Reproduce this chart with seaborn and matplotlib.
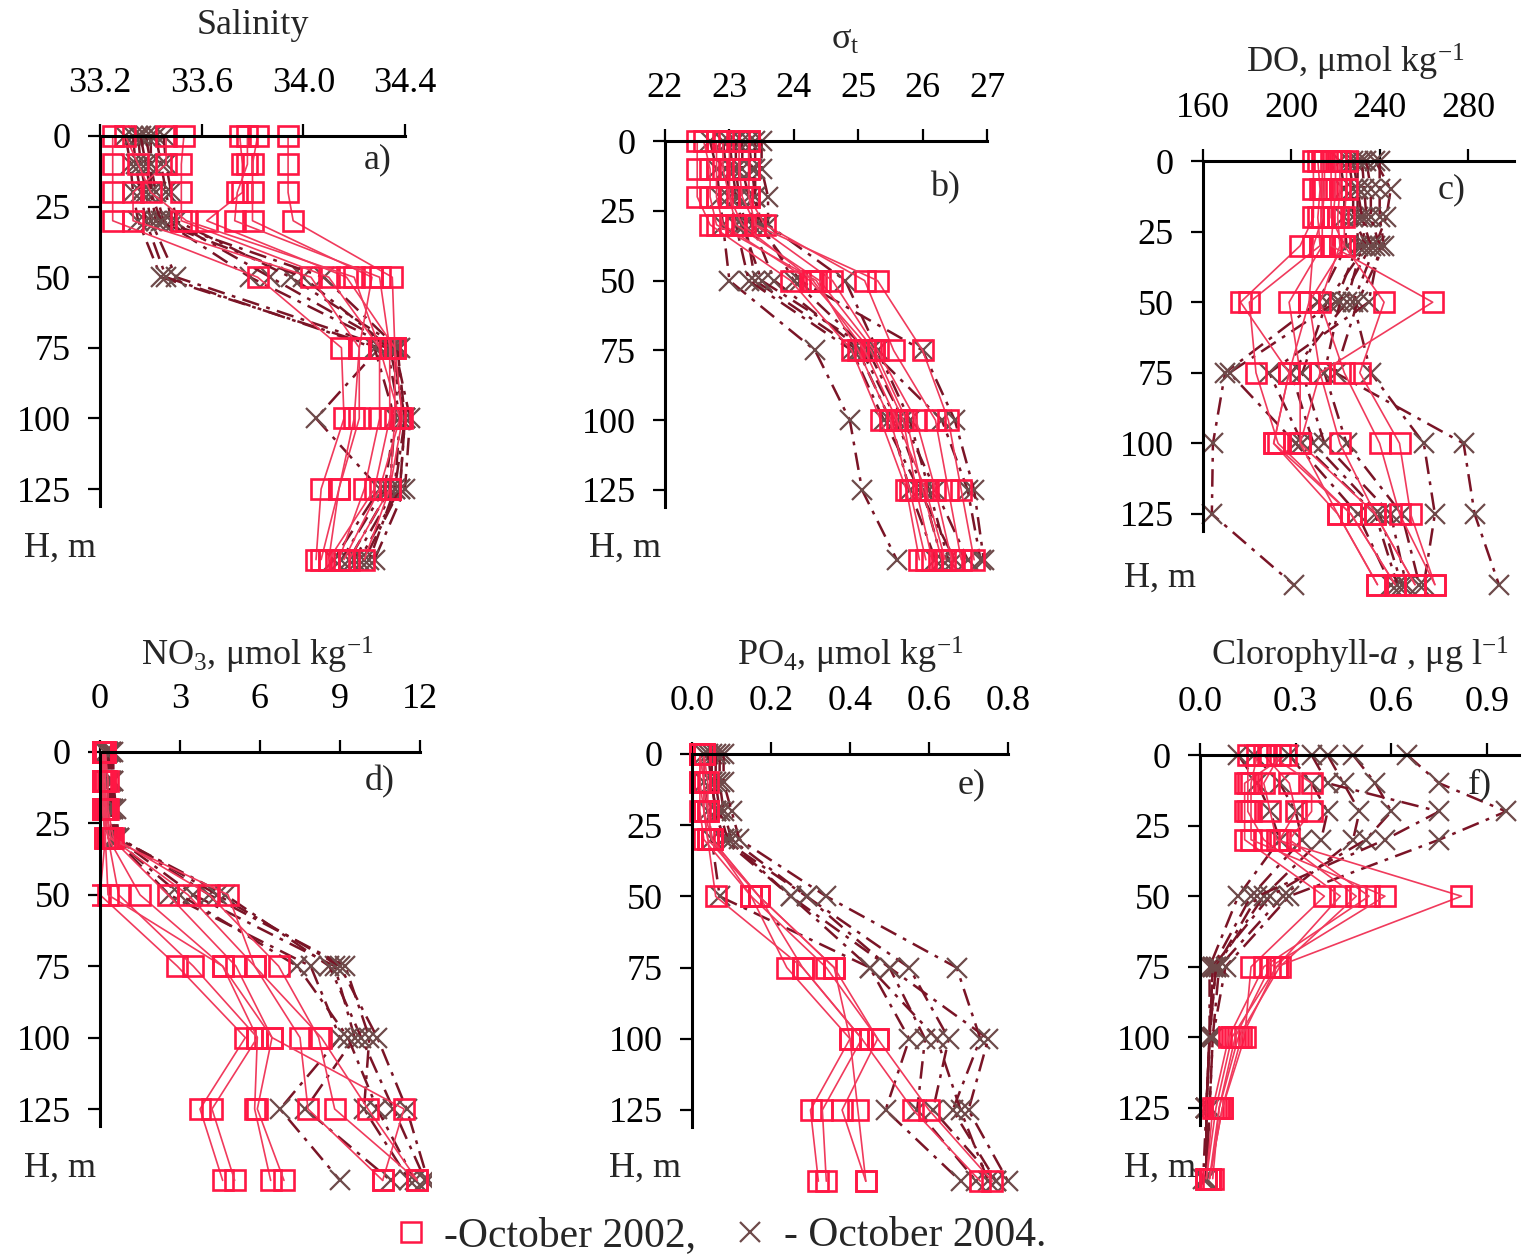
import numpy as np
import pandas as pd
import matplotlib
matplotlib.use("Agg")
import matplotlib.pyplot as plt
from matplotlib.lines import Line2D
import seaborn as sns

# ---------------- data ----------------
depths = [0, 10, 20, 30, 50, 75, 100, 125, 150]

sal_2002 = [
    [33.25, 33.25, 33.25, 33.25, 33.82, 34.15, 34.16, 34.07, 34.05],
    [33.46, 33.46, 33.33, 33.33, 34.03, 34.22, 34.20, 34.14, 34.10],
    [33.53, 33.52, 33.52, 33.52, 34.10, 34.30, 34.30, 34.24, 34.14],
    [33.75, 33.76, 33.76, 33.62, 34.17, 34.36, 34.36, 34.34, 34.24],
    [33.82, 33.80, 33.80, 33.80, 34.27, 34.22, 34.22, 34.14, 34.07],
    [33.94, 33.94, 33.94, 33.96, 34.35, 34.36, 34.39, 34.34, 34.18],
    [33.30, 33.35, 33.40, 33.54, 34.20, 34.30, 34.38, 34.30, 34.16],
    [33.78, 33.78, 33.74, 33.73, 34.30, 34.34, 34.34, 34.28, 34.10],
]
sal_2004 = [
    [33.30, 33.32, 33.33, 33.35, 33.44, 34.30, 34.05, 34.30, 34.12],
    [33.35, 33.36, 33.38, 33.40, 33.50, 34.33, 34.38, 34.36, 34.20],
    [33.40, 33.40, 33.42, 33.45, 33.79, 34.35, 34.40, 34.38, 34.24],
    [33.42, 33.44, 33.46, 33.48, 33.87, 34.36, 34.42, 34.40, 34.28],
    [33.45, 33.46, 33.48, 33.50, 33.95, 34.38, 34.36, 34.34, 34.18],
    [33.38, 33.40, 33.40, 33.42, 34.00, 34.34, 34.40, 34.36, 34.26],
    [33.33, 33.34, 33.36, 33.38, 33.46, 34.28, 34.36, 34.32, 34.15],
    [33.36, 33.38, 33.40, 33.44, 34.08, 34.37, 34.40, 34.38, 34.22],
]

sig_2002 = [
    [22.5, 22.5, 22.5, 22.7, 23.95, 24.9, 25.35, 25.75, 25.95],
    [22.8, 22.8, 22.8, 22.9, 24.25, 25.2, 25.7, 25.9, 26.15],
    [23.0, 23.0, 23.0, 23.1, 24.4, 25.25, 25.75, 26.0, 26.3],
    [23.3, 23.3, 23.3, 23.55, 25.1, 25.55, 26.2, 26.4, 26.6],
    [23.3, 23.3, 23.3, 23.4, 25.3, 26.0, 26.4, 26.6, 26.8],
    [22.6, 22.7, 22.7, 22.8, 24.35, 25.0, 25.5, 25.8, 26.05],
    [23.15, 23.15, 23.2, 23.4, 24.6, 25.3, 25.9, 26.2, 26.45],
    [22.9, 22.9, 23.0, 23.2, 24.3, 25.1, 25.6, 26.05, 26.35],
]
sig_2004 = [
    [22.7, 22.8, 22.85, 22.9, 23.0, 24.33, 24.87, 25.06, 25.6],
    [23.1, 23.1, 23.15, 23.25, 23.4, 25.0, 25.5, 25.8, 26.2],
    [23.5, 23.5, 23.6, 23.6, 24.8, 25.3, 25.8, 26.1, 26.4],
    [23.2, 23.2, 23.3, 23.35, 23.7, 25.05, 25.6, 26.0, 26.3],
    [23.0, 23.05, 23.1, 23.2, 23.5, 25.2, 26.3, 26.7, 26.9],
    [23.4, 23.4, 23.4, 23.45, 24.1, 26.0, 26.5, 26.8, 26.95],
    [22.9, 22.95, 23.0, 23.1, 23.3, 24.9, 25.4, 25.95, 26.5],
    [23.3, 23.35, 23.4, 23.5, 24.0, 25.15, 25.7, 26.2, 26.7],
]

do_2002 = [
    [210, 210, 210, 204, 177, 199, 192, 221, 239],
    [212, 213, 212, 213, 181, 184, 194, 227, 247],
    [215, 215, 214, 214, 199, 204, 204, 221, 239],
    [218, 218, 218, 224, 208, 213, 222, 238, 256],
    [222, 222, 221, 222, 213, 224, 240, 249, 265],
    [225, 225, 224, 224, 242, 231, 249, 254, 265],
    [220, 220, 219, 218, 264, 213, 204, 238, 256],
    [214, 214, 214, 210, 208, 199, 192, 227, 247],
]
do_2004 = [
    [222, 224, 224, 225, 212, 170, 164.5, 164, 201],
    [228, 230, 230, 230, 220, 172, 202, 230, 245],
    [232, 233, 234, 232, 225, 200, 210, 240, 250],
    [238, 245, 243, 238, 228, 236, 260, 265, 260],
    [240, 240, 240, 242, 230, 220, 278, 283, 294],
    [226, 228, 228, 234, 216, 205, 215, 245, 252],
    [234, 236, 236, 240, 235, 190, 205, 238, 248],
    [230, 230, 232, 236, 222, 215, 225, 250, 258],
]

no3_2002 = [
    [0.05, 0.05, 0.1, 0.2, 0.0, 2.9, 5.45, 3.75, 4.6],
    [0.1, 0.1, 0.1, 0.3, 0.7, 3.5, 5.9, 4.2, 5.05],
    [0.1, 0.15, 0.15, 0.3, 1.5, 4.6, 5.9, 5.8, 6.4],
    [0.2, 0.2, 0.2, 0.4, 2.55, 5.1, 6.45, 5.9, 6.9],
    [0.15, 0.2, 0.25, 0.4, 3.3, 5.8, 7.5, 7.8, 10.6],
    [0.2, 0.3, 0.3, 0.5, 4.1, 6.7, 8.2, 8.8, 11.9],
    [0.1, 0.1, 0.2, 0.3, 4.8, 5.8, 8.3, 10.05, 11.9],
    [0.05, 0.1, 0.1, 0.2, 0.3, 4.6, 6.45, 11.4, 10.6],
]
no3_2004 = [
    [0.3, 0.3, 0.4, 0.5, 2.6, 7.9, 9.0, 6.75, 9.0],
    [0.4, 0.4, 0.5, 0.6, 3.5, 8.8, 9.55, 7.7, 10.9],
    [0.5, 0.5, 0.5, 0.7, 4.1, 9.2, 10.1, 9.9, 11.6],
    [0.3, 0.4, 0.4, 0.6, 4.7, 8.6, 9.8, 11.0, 12.2],
    [0.2, 0.3, 0.3, 0.5, 3.0, 7.4, 9.3, 10.4, 11.8],
    [0.4, 0.5, 0.6, 0.7, 4.4, 9.0, 10.4, 11.5, 12.3],
]

po4_2002 = [
    [0.02, 0.02, 0.02, 0.03, 0.15, 0.24, 0.40, 0.30, 0.32],
    [0.02, 0.02, 0.03, 0.04, 0.17, 0.28, 0.43, 0.33, 0.34],
    [0.03, 0.03, 0.03, 0.05, 0.15, 0.34, 0.47, 0.38, 0.44],
    [0.03, 0.03, 0.04, 0.05, 0.17, 0.36, 0.40, 0.42, 0.44],
    [0.02, 0.03, 0.03, 0.04, 0.06, 0.28, 0.43, 0.56, 0.73],
    [0.03, 0.04, 0.04, 0.05, 0.17, 0.36, 0.47, 0.60, 0.76],
]
po4_2004 = [
    [0.03, 0.03, 0.04, 0.05, 0.07, 0.45, 0.55, 0.49, 0.68],
    [0.05, 0.05, 0.06, 0.08, 0.25, 0.50, 0.59, 0.57, 0.72],
    [0.07, 0.07, 0.08, 0.10, 0.29, 0.55, 0.65, 0.61, 0.77],
    [0.08, 0.08, 0.10, 0.12, 0.34, 0.67, 0.73, 0.66, 0.77],
    [0.04, 0.05, 0.06, 0.08, 0.29, 0.50, 0.75, 0.70, 0.80],
    [0.06, 0.06, 0.07, 0.09, 0.25, 0.45, 0.62, 0.68, 0.75],
]

chl_2002 = [
    [0.27, 0.14, 0.14, 0.14, 0.39, 0.16, 0.14, 0.07, 0.03],
    [0.15, 0.15, 0.15, 0.20, 0.44, 0.24, 0.10, 0.05, 0.02],
    [0.20, 0.28, 0.30, 0.25, 0.49, 0.25, 0.12, 0.06, 0.03],
    [0.22, 0.35, 0.35, 0.28, 0.53, 0.20, 0.09, 0.04, 0.02],
    [0.18, 0.16, 0.16, 0.16, 0.58, 0.22, 0.11, 0.06, 0.04],
    [0.25, 0.20, 0.22, 0.24, 0.82, 0.24, 0.13, 0.07, 0.03],
]
chl_2004 = [
    [0.12, 0.18, 0.22, 0.25, 0.12, 0.03, 0.03, 0.02, 0.02],
    [0.17, 0.25, 0.30, 0.32, 0.16, 0.04, 0.03, 0.02, 0.02],
    [0.28, 0.35, 0.40, 0.38, 0.20, 0.05, 0.03, 0.02, 0.01],
    [0.40, 0.45, 0.50, 0.48, 0.26, 0.06, 0.04, 0.03, 0.02],
    [0.48, 0.55, 0.60, 0.52, 0.22, 0.04, 0.03, 0.02, 0.02],
    [0.65, 0.75, 0.96, 0.75, 0.28, 0.08, 0.04, 0.03, 0.02],
    [0.35, 0.40, 0.75, 0.58, 0.18, 0.05, 0.03, 0.02, 0.02],
]

titles = ["Salinity", r"σ$_\mathregular{t}$", r"DO, μmol kg$^\mathregular{-1}$",
          r"NO$_\mathregular{3}$, μmol kg$^\mathregular{-1}$",
          r"PO$_\mathregular{4}$, μmol kg$^\mathregular{-1}$",
          r"Clorophyll-$\mathit{a}$ , μg l$^\mathregular{-1}$"]
letters = ["a)", "b)", "c)", "d)", "e)", "f)"]
xticks_list = [[33.2, 33.6, 34.0, 34.4], [22, 23, 24, 25, 26, 27], [160, 200, 240, 280],
               [0, 3, 6, 9, 12], [0.0, 0.2, 0.4, 0.6, 0.8], [0.0, 0.3, 0.6, 0.9]]
xticklabels_list = [["33.2", "33.6", "34.0", "34.4"], ["22", "23", "24", "25", "26", "27"],
                    ["160", "200", "240", "280"], ["0", "3", "6", "9", "12"],
                    ["0.0", "0.2", "0.4", "0.6", "0.8"], ["0.0", "0.3", "0.6", "0.9"]]
yticks = [0, 25, 50, 75, 100, 125]
legend_labels = ["-October 2002,", "- October 2004."]

# ---------------- style ----------------
sns.set_style("white")
plt.rcParams["font.family"] = ["Liberation Serif", "DejaVu Serif"]
plt.rcParams["mathtext.fontset"] = "custom"
plt.rcParams["mathtext.rm"] = "Liberation Serif"
plt.rcParams["mathtext.it"] = "Liberation Serif:italic"
plt.rcParams["mathtext.bf"] = "Liberation Serif:bold"

W, H = 1522, 1260
fig = plt.figure(figsize=(W / 100, H / 100), dpi=100)
fig.patch.set_facecolor("white")

RED_M = "#FF1744"
RED_L = "#F03A5C"
DARK_L = "#7A1426"
DARK_M = "#6E4A4A"
FS = 26

panels = [
    dict(x=((33.2, 100), (34.4, 405)), y=(136, 489), xlim=(33.15, 34.5), xend=34.4,
         d02=sal_2002, d04=sal_2004, title_px=(253, 25), letter_px=(378, 160), hm_px=(60, 548)),
    dict(x=((22, 665), (27, 987)), y=(141, 490), xlim=(21.8, 27.2), xend=27,
         d02=sig_2002, d04=sig_2004, title_px=(845, 40), letter_px=(945, 188), hm_px=(625, 548)),
    dict(x=((160, 1203), (280, 1468)), y=(161, 514), xlim=(156, 302), xend=301,
         d02=do_2002, d04=do_2004, title_px=(1355, 62), letter_px=(1452, 190), hm_px=(1160, 578)),
    dict(x=((0, 100), (12, 420)), y=(752, 1109), xlim=(-0.3, 12.4), xend=12,
         d02=no3_2002, d04=no3_2004, title_px=(257, 655), letter_px=(380, 782), hm_px=(60, 1168)),
    dict(x=((0, 692), (0.8, 1008)), y=(754, 1110), xlim=(-0.03, 0.83), xend=0.8,
         d02=po4_2002, d04=po4_2004, title_px=(850, 655), letter_px=(972, 785), hm_px=(645, 1168)),
    dict(x=((0, 1200), (0.9, 1487)), y=(755, 1108), xlim=(-0.03, 1.0), xend=1.0,
         d02=chl_2002, d04=chl_2004, title_px=(1360, 655), letter_px=(1480, 785), hm_px=(1160, 1168)),
]
YTOP, YBOT = -4, 155


def to_long(profiles, year):
    rows = []
    for i, prof in enumerate(profiles):
        for d, v in zip(depths, prof):
            rows.append(dict(station=i, depth=d, value=v, year=year))
    return pd.DataFrame(rows)


for k, p in enumerate(panels):
    (v0, p0), (v1, p1) = p["x"]
    s = (p1 - p0) / (v1 - v0)
    q0, q1 = p["y"]
    t = (q1 - q0) / 125.0
    lpx = p0 + (p["xlim"][0] - v0) * s
    rpx = p0 + (p["xlim"][1] - v0) * s
    tpx = q0 + YTOP * t
    bpx = q0 + YBOT * t
    ax = fig.add_axes([lpx / W, 1 - bpx / H, (rpx - lpx) / W, (bpx - tpx) / H])
    ax.patch.set_visible(False)

    df04 = to_long(p["d04"], 2004)
    df02 = to_long(p["d02"], 2002)
    sns.lineplot(data=df04, x="value", y="depth", units="station", estimator=None,
                 sort=False, orient="y", ax=ax, color=DARK_L, lw=1.8,
                 linestyle=(0, (7, 3, 1.5, 3)), marker="x", markersize=14,
                 markeredgecolor=DARK_M, markeredgewidth=1.6)
    sns.lineplot(data=df02, x="value", y="depth", units="station", estimator=None,
                 sort=False, orient="y", ax=ax, color=RED_L, lw=1.2,
                 marker="s", markersize=14, markerfacecolor="none",
                 markeredgecolor=RED_M, markeredgewidth=1.9)

    ax.set_xlim(*p["xlim"])
    ax.set_ylim(YBOT, YTOP)
    ax.set_xlabel("")
    ax.set_ylabel("")

    for sp in ["right", "bottom"]:
        ax.spines[sp].set_visible(False)
    ax.spines["top"].set_position(("data", 0))
    ax.spines["top"].set_bounds(v0, p["xend"])
    ax.spines["left"].set_position(("data", v0))
    ax.spines["left"].set_bounds(0, 131)
    for sp in ["top", "left"]:
        ax.spines[sp].set_linewidth(2.2)
        ax.spines[sp].set_color("black")

    ax.xaxis.tick_top()
    ax.set_xticks(xticks_list[k])
    ax.set_xticklabels(xticklabels_list[k])
    ax.set_yticks(yticks)
    ax.set_yticklabels([str(v) for v in yticks])
    ax.tick_params(axis="x", direction="out", length=9, width=1.6, pad=17,
                   labelsize=FS, colors="black", top=True, bottom=False)
    ax.tick_params(axis="y", direction="out", length=9, width=1.6, pad=12,
                   labelsize=FS, colors="black", left=True)

    fig.text(p["title_px"][0] / W, 1 - p["title_px"][1] / H, titles[k], fontsize=FS,
             ha="center", va="center")
    fig.text(p["letter_px"][0] / W, 1 - p["letter_px"][1] / H, letters[k], fontsize=FS,
             ha="center", va="center")
    fig.text(p["hm_px"][0] / W, 1 - p["hm_px"][1] / H, "H, m", fontsize=FS,
             ha="center", va="center")

handles = [
    Line2D([], [], ls="none", marker="s", markersize=15, markerfacecolor="none",
           markeredgecolor=RED_M, markeredgewidth=1.8),
    Line2D([], [], ls="none", marker="x", markersize=15, markeredgecolor=DARK_M,
           markeredgewidth=1.6),
]
fig.legend(handles, legend_labels, loc="center", bbox_to_anchor=(718 / W, 1 - 1236 / H),
           ncol=2, frameon=False, fontsize=30, handletextpad=0.3, columnspacing=0.8,
           handlelength=1.0)

fig.savefig("out.png", dpi=100, facecolor="white")
